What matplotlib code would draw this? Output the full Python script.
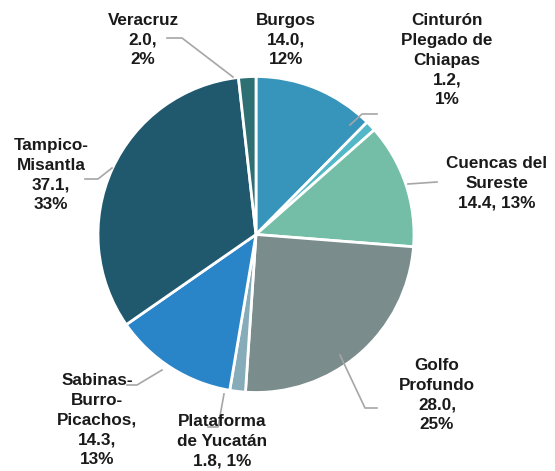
import matplotlib.pyplot as plt

# reserves by basin (value, share)
basins = ["Burgos", "Cinturón\nPlegado de\nChiapas", "Cuencas del\nSureste", "Golfo\nProfundo",
          "Plataforma\nde Yucatán", "Sabinas-\nBurro-\nPicachos,", "Tampico-\nMisantla", "Veracruz"]
values = [14.0, 1.2, 14.4, 28.0, 1.8, 14.3, 37.1, 2.0]
pcts = [12, 1, 13, 25, 1, 13, 33, 2]
colors = ["#3795BC", "#52B8C8", "#74BDA7", "#7A8C8C", "#86ACBA", "#2A84C8", "#20586E", "#2D6F73"]

# label layout, in pixels of the 555x471 figure
W, H = 555, 471
cx, cy, R = 256, 234.5, 158
label_pos = [(286, 40), (447, 60), (497, 183), (437, 395), (222, 441), (97, 420), (51, 175), (143, 40)]
sep = [",\n", ",\n", ", ", ",\n", ", ", "\n", ",\n", ",\n"]
leaders = [
    None,
    [(350, 125), (362, 114), (377, 114)],
    [(408, 184), (437, 182)],
    [(340, 355), (365, 408), (377, 408)],
    [(224, 394), (218, 427), (208, 427)],
    [(162, 370), (137, 385), (127, 385)],
    [(112, 168), (98, 179), (85, 179)],
    [(233, 77), (182, 38), (167, 38)],
]


def to_data(p):
    return ((p[0] - cx) / R, (cy - p[1]) / R)


fig = plt.figure(figsize=(W / 100, H / 100), dpi=100)
ax = fig.add_axes([(cx - R) / W, (H - cy - R) / H, 2 * R / W, 2 * R / H])
ax.pie(values, colors=colors, startangle=90, counterclock=False,
       wedgeprops=dict(edgecolor="white", linewidth=2))
ax.set_xlim(-1, 1)
ax.set_ylim(-1, 1)
ax.set_aspect("equal")
ax.axis("off")

for i, name in enumerate(basins):
    txt = f"{name}\n{values[i]:.1f}{sep[i]}{pcts[i]}%"
    if i == 5:
        txt = f"{name}\n{values[i]:.1f},\n{pcts[i]}%"
    x, y = to_data(label_pos[i])
    ax.text(x, y, txt, ha="center", va="center", fontsize=12.3, fontweight="bold",
            family="Liberation Sans", color="#1a1a1a", linespacing=1.38, clip_on=False)
    if leaders[i]:
        pts = [to_data(p) for p in leaders[i]]
        ax.plot([p[0] for p in pts], [p[1] for p in pts], color="#A6A6A6", lw=1.2, clip_on=False)

fig.savefig("out.png", dpi=100)
